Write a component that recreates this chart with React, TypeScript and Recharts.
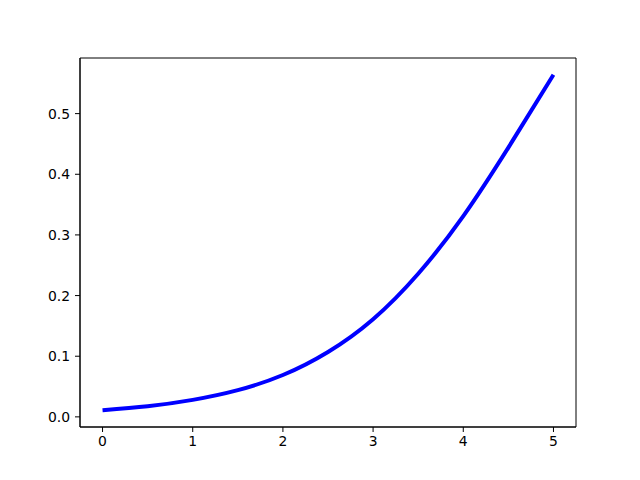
import { LineChart, Line, XAxis, YAxis, ReferenceArea } from 'recharts';

// values
const xValues = [0, 0.5, 1, 1.5, 2, 2.5, 3, 3.5, 4, 4.5, 5];
const yValues = [0.011, 0.0175, 0.028, 0.044, 0.069, 0.107, 0.161, 0.236, 0.331, 0.444, 0.564];

const xTicks = [0, 1, 2, 3, 4, 5];
const yTicks = [0, 0.1, 0.2, 0.3, 0.4, 0.5];

const X_DOMAIN: [number, number] = [-0.25, 5.25];
const Y_DOMAIN: [number, number] = [-0.0167, 0.5917];

const data = xValues.map((x, i) => ({ x, y: yValues[i] }));

const tickStyle = { fontSize: 13.9, fill: '#000', fontFamily: 'DejaVu Sans' };

export default function App() {
  return (
    <div style={{ width: 640, height: 480, background: '#fff' }}>
      <style>{'body{margin:0}'}</style>
      <LineChart width={640} height={480} data={data} margin={{ top: 58, right: 64, bottom: 23, left: 0 }}>
        <XAxis
          dataKey="x"
          type="number"
          domain={X_DOMAIN}
          ticks={xTicks}
          height={30}
          tickSize={5}
          tickMargin={4}
          axisLine={{ stroke: '#000', strokeWidth: 1 }}
          tickLine={{ stroke: '#000', strokeWidth: 1 }}
          tick={tickStyle}
          allowDataOverflow
        />
        <YAxis
          type="number"
          domain={Y_DOMAIN}
          ticks={yTicks}
          width={80}
          tickSize={5}
          tickMargin={5}
          tickFormatter={(v: number) => v.toFixed(1)}
          axisLine={{ stroke: '#000', strokeWidth: 1 }}
          tickLine={{ stroke: '#000', strokeWidth: 1 }}
          tick={tickStyle}
          allowDataOverflow
        />
        <ReferenceArea
          x1={X_DOMAIN[0]}
          x2={X_DOMAIN[1]}
          y1={Y_DOMAIN[0]}
          y2={Y_DOMAIN[1]}
          fill="none"
          stroke="#000"
          strokeWidth={1}
        />
        <Line
          type="natural"
          dataKey="y"
          stroke="#0000ff"
          strokeWidth={4}
          dot={false}
          isAnimationActive={false}
        />
      </LineChart>
    </div>
  );
}
